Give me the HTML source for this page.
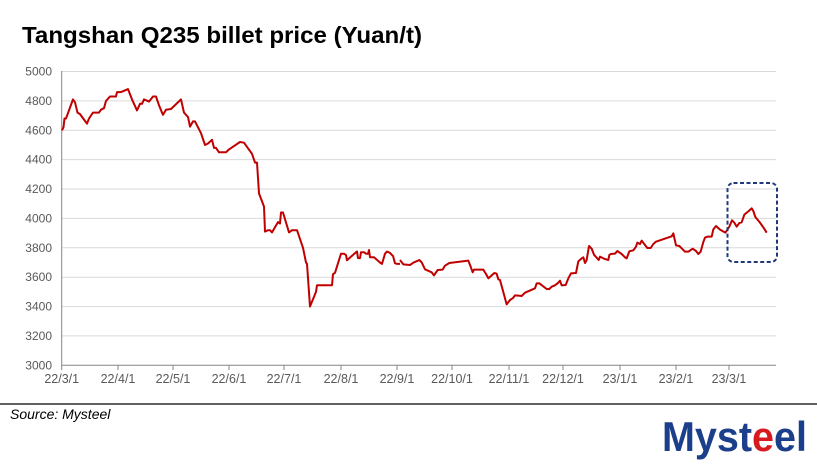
<!DOCTYPE html>
<html><head><meta charset="utf-8"><style>
body{margin:0;background:#fff;width:817px;height:461px;overflow:hidden;font-family:"Liberation Sans",Arial,sans-serif}
</style></head><body>
<svg width="817" height="461" xmlns="http://www.w3.org/2000/svg" font-family="Liberation Sans, Arial, sans-serif">
<text x="22" y="43" font-size="23" font-weight="bold" textLength="400" lengthAdjust="spacingAndGlyphs">Tangshan Q235 billet price (Yuan/t)</text>
<g stroke="#d9d9d9" stroke-width="1">
<line x1="62" x2="776" y1="71.5" y2="71.5"/><line x1="62" x2="776" y1="100.9" y2="100.9"/><line x1="62" x2="776" y1="130.3" y2="130.3"/><line x1="62" x2="776" y1="159.6" y2="159.6"/><line x1="62" x2="776" y1="189" y2="189"/><line x1="62" x2="776" y1="218.4" y2="218.4"/><line x1="62" x2="776" y1="247.8" y2="247.8"/><line x1="62" x2="776" y1="277.2" y2="277.2"/><line x1="62" x2="776" y1="306.6" y2="306.6"/><line x1="62" x2="776" y1="335.9" y2="335.9"/>
</g>
<g stroke="#868686" stroke-width="1">
<line x1="62" x2="776" y1="365.3" y2="365.3"/><line x1="61.7" x2="61.7" y1="71" y2="365"/>
<g id="ticks"></g>
</g>
<g font-size="12" fill="#595959" text-anchor="end" id="ylab"></g>
<g font-size="12.5" fill="#595959" text-anchor="middle" id="xlab"></g>
<polyline id="s1" fill="none" stroke="#c00000" stroke-width="2" stroke-linejoin="round"/>
<g transform="translate(400,170) scale(0.33333)"><polyline fill="none" stroke="#c00000" stroke-width="6" stroke-linejoin="round" points="0,270 10,283 30,285 40,278 58,270 65,277 75,298 95,307 102,316 113,300 128,299 135,287 148,279 205,272 212,290 218,307 222,299 250,299 258,312 265,325 283,309 290,311 295,328 300,330 320,403 330,390 338,385 345,376 355,377 365,378 375,368 405,355 410,340 418,340 440,357 448,357 455,350 465,346 475,338 480,332 485,346 497,345 505,325 513,310 528,309 535,274 545,265 550,262 555,279 560,270 567,228 575,236 582,254 596,270 600,260 612,266 625,270 628,255 632,252 645,251 652,243 665,252 675,262 680,265 688,244 700,241 708,230 712,218 720,222 725,212 735,225 742,234 752,234 760,222 768,215 815,199 820,190 828,226 838,228 845,235 855,245 865,245 878,236 888,243 895,252 902,245 910,216 915,203 922,200 935,200 940,178 948,168 960,179 976,188 988,170 996,151 1003,158 1010,170 1018,159 1025,157 1033,134 1045,124 1055,115 1060,123 1066,141 1080,158 1092,175 1100,188"/></g>
<rect x="727.5" y="183" width="49.5" height="79" rx="6" fill="none" stroke="#1f3a7a" stroke-width="2" stroke-dasharray="4,2.5"/>
<line x1="0" x2="817" y1="404" y2="404" stroke="#000" stroke-width="1.2"/>
<text x="10" y="419" font-size="14" font-style="italic">Source: Mysteel</text>
<text x="662" y="451" font-size="42" font-weight="bold" fill="#1b3f8b" textLength="145" lengthAdjust="spacingAndGlyphs">Myst<tspan fill="#d71920">e</tspan>el</text>
</svg>
<script>
var Y=function(v){return 365.3-(v-3000)*0.1469;};
var yl=document.getElementById('ylab'),s='';
for(var v=3000;v<=5000;v+=200){s+='<text x="52" y="'+(Y(v)+4)+'">'+v+'</text>';}
yl.innerHTML=s;
var xs=[61.7,118,173,229,284,341,397,452,509,563,620,676,729],lb=['22/3/1','22/4/1','22/5/1','22/6/1','22/7/1','22/8/1','22/9/1','22/10/1','22/11/1','22/12/1','23/1/1','23/2/1','23/3/1'];
s='';var t='';
for(var i=0;i<xs.length;i++){s+='<text x="'+xs[i]+'" y="383">'+lb[i]+'</text>';t+='<line x1="'+xs[i]+'" x2="'+xs[i]+'" y1="365" y2="370"/>';}
document.getElementById('xlab').innerHTML=s;document.getElementById('ticks').innerHTML=t;
var d=[62,4600,63.5,4620,64.5,4680,66,4680,73,4810,75,4790,77.5,4720,80,4710,87,4645,89,4680,93,4720,99,4720,101,4740,104,4750,106,4800,110,4830,116,4830,117,4860,121,4860,128,4880,132,4810,137,4735,140,4780,142,4780,144,4810,149,4795,153,4830,156,4830,159,4770,162,4720,163,4705,166,4740,171,4745,181,4810,182,4780,184,4720,188,4690,190,4625,193,4660,195,4660,201,4580,205,4500,208,4510,212,4535,214,4480,216,4480,219,4450,226,4450,229,4470,240,4520,244,4515,252,4440,255,4380,257,4380,259,4170,264,4080,265,3910,268,3920,270,3920,272,3905,278,3975,280,3965,281,4040,283,4040,289,3905,292,3920,297,3920,303,3800,306,3700,307,3690,310,3400,316,3500,317,3545,332,3545,333,3620,335,3630,341,3760,344,3760,346,3750,347,3715,356,3770,357,3775,358,3730,360,3730,361,3770,364,3770,366,3760,368,3760,369,3785,370,3735,374,3735,380,3700,382,3690,385,3760,387,3775,390,3765,392,3750,393,3745,395,3695,397,3690,400,3690];
var p='';for(var i=0;i<d.length;i+=2)p+=d[i]+','+Y(d[i+1]).toFixed(1)+' ';
document.getElementById('s1').setAttribute('points',p);
</script>
</body></html>
